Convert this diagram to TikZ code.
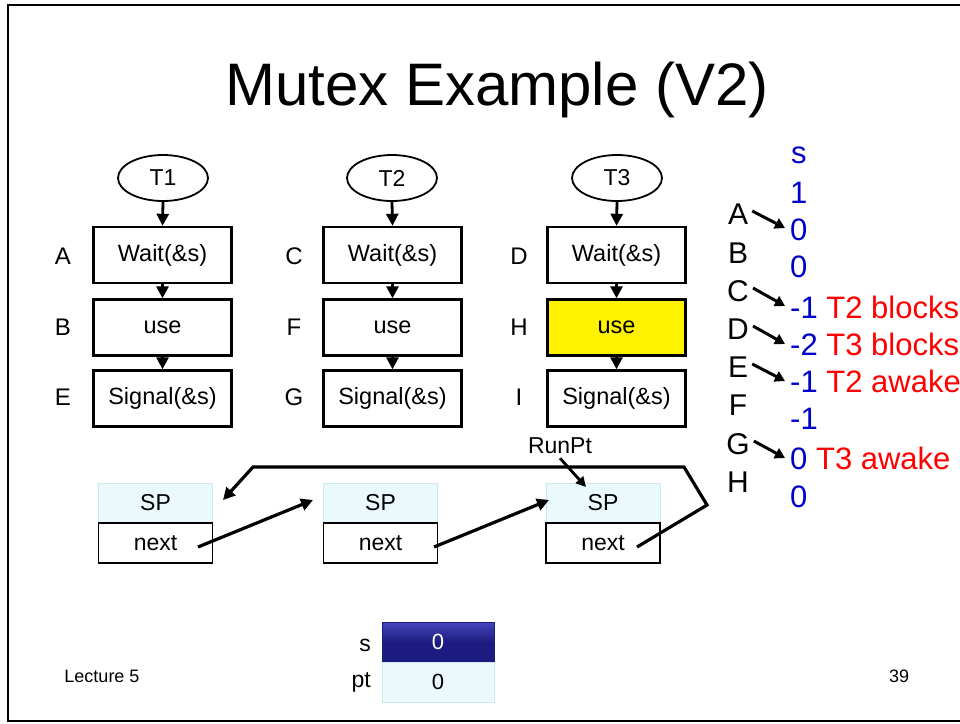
\documentclass[tikz,border=0pt]{standalone}
\usepackage{fontspec}
\setmainfont{Liberation Sans}
\usetikzlibrary{arrows.meta,shapes.geometric,calc}
\definecolor{valblue}{RGB}{0,0,204}
\definecolor{spfill}{RGB}{234,250,252}
\definecolor{spline}{RGB}{205,232,236}
\definecolor{navytop}{RGB}{70,70,190}
\definecolor{navybot}{RGB}{28,28,128}
\begin{document}
\begin{tikzpicture}[x=1pt,y=-1pt,
  thread/.style={ellipse,draw,line width=1.8pt,minimum width=90pt,minimum height=46pt,inner sep=0pt,font=\fontsize{23}{23}\selectfont},
  stepbox/.style={draw,line width=2.4pt,minimum width=138pt,minimum height=56pt,inner sep=0pt,font=\fontsize{23.5}{23.5}\selectfont},
  lbl/.style={font=\fontsize{24}{24}\selectfont,inner sep=0pt},
  flow/.style={line width=2.8pt,-{Triangle[length=12pt,width=12pt]}},
  link/.style={line width=3.2pt,-{Triangle[length=12pt,width=12pt]}},
  spbox/.style={draw=spline,fill=spfill,line width=0.8pt,minimum width=114pt,minimum height=40pt,inner sep=0pt,font=\fontsize{23}{23}\selectfont},
  nextbox/.style={draw,line width=1.8pt,fill=white,minimum width=114pt,minimum height=40pt,inner sep=0pt,font=\fontsize{23}{23}\selectfont},
  val/.style={font=\fontsize{31}{31}\selectfont,text=valblue,anchor=west,inner sep=0pt},
  letter/.style={font=\fontsize{30}{30}\selectfont,inner sep=0pt},
  sarrow/.style={line width=3pt,-{Triangle[length=10pt,width=11pt]}}
]
\useasboundingbox (0,0) rectangle (960,723);
\clip (0,0) rectangle (960,723);
\fill[white] (0,0) rectangle (960,723);
\draw[line width=2pt] (8,5) rectangle (980,721);

% title
\node[font=\fontsize{60}{60}\selectfont,inner sep=0pt] (title) at (497,90) {Mutex Example (V2)};

% threads
\node[thread] (t1) at (163,178) {T1};
\node[thread] (t2) at (392,178) {T2};
\node[thread] (t3) at (617,178) {T3};

% column 1
\node[stepbox] (w1) at (162.5,255) {Wait(\&s)};
\node[stepbox] (u1) at (162.5,327.5) {use};
\node[stepbox] (s1) at (162.5,398.5) {Signal(\&s)};
% column 2
\node[stepbox] (w2) at (392.5,255) {Wait(\&s)};
\node[stepbox] (u2) at (392.5,327.5) {use};
\node[stepbox] (s2) at (392.5,398.5) {Signal(\&s)};
% column 3
\node[stepbox] (w3) at (616.5,255) {Wait(\&s)};
\node[stepbox,fill=yellow] (u3) at (616.5,327.5) {use};
\node[stepbox] (s3) at (616.5,398.5) {Signal(\&s)};

% labels
\node[lbl] (la) at (63,256) {A};
\node[lbl] (lb) at (63,327) {B};
\node[lbl] (le) at (63,397) {E};
\node[lbl] (lc) at (294,256) {C};
\node[lbl] (lf) at (294,327) {F};
\node[lbl] (lg) at (294,397) {G};
\node[lbl] (ld) at (519,256) {D};
\node[lbl] (lh) at (519,327) {H};
\node[lbl] (li) at (519,397) {I};

% flow arrows
\foreach \c in {1,2,3}{
  \draw[flow] (t\c.south) -- (w\c.north);
  \draw[flow] (w\c.south) -- (u\c.north);
  \draw[flow] (u\c.south) -- (s\c.north);
}

% linked list
\node[spbox] (sp1) at (155.5,503) {SP};
\node[nextbox] (n1) at (155.5,543) {next};
\node[spbox] (sp2) at (380.5,503) {SP};
\node[nextbox] (n2) at (380.5,543) {next};
\node[spbox] (sp3) at (603,503) {SP};
\node[nextbox] (n3) at (603,543) {next};

\coordinate (p1) at (198,547);
\coordinate (q2) at (313,500);
\coordinate (p2) at (434,547);
\coordinate (q3) at (549,500);
\coordinate (p3) at (637,547);
\coordinate (k1) at (707,505);
\coordinate (k2) at (684,467);
\coordinate (k3) at (253,467);
\coordinate (q1) at (223,500);
\draw[link] (p1) -- (q2);
\draw[link] (p2) -- (q3);
\draw[link,line join=miter] (p3) -- (k1) -- (k2) -- (k3) -- (q1);

\node[font=\fontsize{23}{23}\selectfont,inner sep=0pt] (runpt) at (560,446) {RunPt};
\coordinate (rp) at (586,487);
\draw[line width=2.8pt,-{Triangle[length=10pt,width=10pt]}] (runpt.south) ++(0,4) -- (rp);

% bottom table
\node[draw=navybot,top color=navytop,bottom color=navybot,middle color=navybot,minimum width=112pt,minimum height=40pt,inner sep=0pt,text=white,font=\fontsize{22}{22}\selectfont] (sval) at (438,642) {0};
\node[spbox,minimum width=112pt,font=\fontsize{22}{22}\selectfont] (ptval) at (438,682) {0};
\node[font=\fontsize{23}{23}\selectfont,anchor=east,inner sep=0pt] (slab) at (371,645) {s};
\node[font=\fontsize{23}{23}\selectfont,anchor=east,inner sep=0pt] (ptlab) at (371,682) {pt};

% footer
\node[font=\fontsize{18}{18}\selectfont,inner sep=0pt] (lect) at (102,676) {Lecture 5};
\node[font=\fontsize{18}{18}\selectfont,inner sep=0pt] (page) at (899,676) {39};

% right column
\node[val] (vs) at (791,155) {s};
\node[val] (v1) at (790,193) {1};
\node[val] (v2) at (790,230) {0};
\node[val] (v3) at (790,267) {0};
\node[val] (v4) at (790,307) {-1 \textcolor{red}{T2 blocks}};
\node[val] (v5) at (790,344) {-2 \textcolor{red}{T3 blocks}};
\node[val] (v6) at (790,381) {-1 \textcolor{red}{T2 awake}};
\node[val] (v7) at (790,419) {-1};
\node[val] (v8) at (790,458) {0 \textcolor{red}{T3 awake}};
\node[val] (v9) at (790,497) {0};

\node[letter] (ra) at (738,214) {A};
\node[letter] (rb) at (738,253) {B};
\node[letter] (rc) at (738,291) {C};
\node[letter] (rd) at (738,329) {D};
\node[letter] (re) at (738,367) {E};
\node[letter] (rf) at (738,405) {F};
\node[letter] (rg) at (738,444) {G};
\node[letter] (rh) at (738,482) {H};

\draw[sarrow] ($(ra.east)+(4,-3)$) -- ($(v2.west)+(-5,-2)$);
\draw[sarrow] ($(rc.east)+(4,-3)$) -- ($(v4.west)+(-5,-1)$);
\draw[sarrow] ($(rd.east)+(4,-3)$) -- ($(v5.west)+(-5,0)$);
\draw[sarrow] ($(re.east)+(4,-3)$) -- ($(v6.west)+(-5,0)$);
\draw[sarrow] ($(rg.east)+(4,-3)$) -- ($(v8.west)+(-5,0)$);
\end{tikzpicture}
\end{document}
